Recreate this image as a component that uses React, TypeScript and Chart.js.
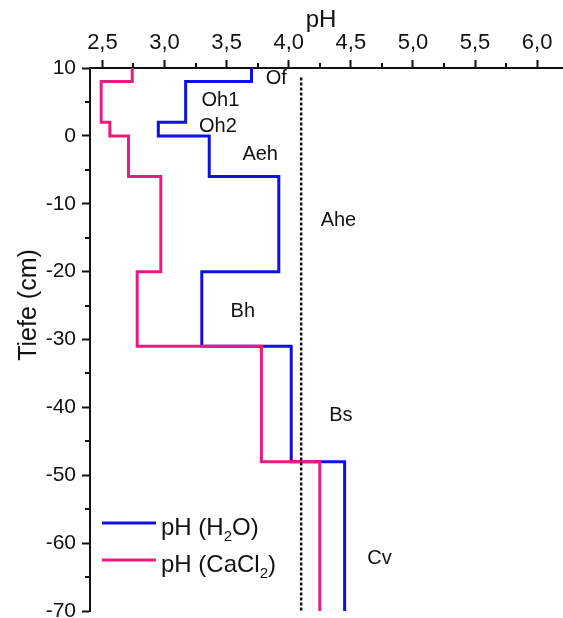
import { useEffect, useRef } from "react";
import { Chart, registerables } from "chart.js";
Chart.register(...registerables);

// Horizons and their depth bounds (cm)
const horizons = ["Of", "Oh1", "Oh2", "Aeh", "Ahe", "Bh", "Bs", "Cv"];
const horizonTop = [10, 8, 2, 0, -6, -20, -31, -48];
const horizonBottom = [8, 2, 0, -6, -20, -31, -48, -70];
// pH values per horizon
const phH2O = [3.7, 3.17, 2.95, 3.36, 3.92, 3.3, 4.02, 4.45];
const phCaCl2 = [2.74, 2.49, 2.56, 2.71, 2.97, 2.78, 3.78, 4.25];
// horizon label anchors (pH, depth)
const labelPH = [3.9, 3.45, 3.43, 3.77, 4.4, 3.63, 4.42, 4.73];
const labelDepth = [8.4, 5.2, 1.4, -2.8, -12.5, -25.9, -41.2, -62.3];
// reference (dashed) line
const refPH = [4.1, 4.1];
const refDepth = [8.6, -70];
// ticks
const xTicks = [2.5, 3.0, 3.5, 4.0, 4.5, 5.0, 5.5, 6.0];
const xMinorTicks = [2.75, 3.25, 3.75, 4.25, 4.75, 5.25, 5.75];
const yTicks = [10, 0, -10, -20, -30, -40, -50, -60, -70];
const yMinorTicks = [5, -5, -15, -25, -35, -45, -55, -65];

const FONT = "Arial, 'Liberation Sans', sans-serif";
const BLUE = "#1010E0";
const PINK = "#EA1A7E";
const INK = "#111111";

function steps(vals: number[]) {
  const pts: { x: number; y: number }[] = [];
  vals.forEach((v, i) => {
    pts.push({ x: v, y: horizonTop[i] });
    pts.push({ x: v, y: horizonBottom[i] });
  });
  return pts;
}

function drawRich(ctx: CanvasRenderingContext2D, x: number, y: number, parts: [string, boolean][], size: number) {
  let cx = x;
  for (const [t, sub] of parts) {
    if (sub) {
      ctx.font = `${Math.round(size * 0.62)}px ${FONT}`;
      ctx.fillText(t, cx, y + size * 0.24);
    } else {
      ctx.font = `${size}px ${FONT}`;
      ctx.fillText(t, cx, y);
    }
    cx += ctx.measureText(t).width;
  }
}

const overlay = {
  id: "overlay",
  afterDraw(chart: any) {
    const ctx: CanvasRenderingContext2D = chart.ctx;
    const xs = chart.scales.x;
    const ys = chart.scales.y;
    const area = chart.chartArea;
    ctx.save();
    // minor ticks
    ctx.strokeStyle = INK;
    ctx.lineWidth = 2;
    ctx.beginPath();
    xMinorTicks.forEach((v) => {
      const px = Math.round(xs.getPixelForValue(v));
      ctx.moveTo(px, area.top - 5);
      ctx.lineTo(px, area.top);
    });
    yMinorTicks.forEach((v) => {
      const py = Math.round(ys.getPixelForValue(v));
      ctx.moveTo(area.left - 5, py);
      ctx.lineTo(area.left, py);
    });
    ctx.stroke();

    ctx.fillStyle = INK;
    // horizon labels
    ctx.font = `20px ${FONT}`;
    ctx.textAlign = "center";
    ctx.textBaseline = "middle";
    horizons.forEach((h, i) => {
      ctx.fillText(h, xs.getPixelForValue(labelPH[i]), ys.getPixelForValue(labelDepth[i]));
    });

    // axis titles
    ctx.font = `24px ${FONT}`;
    ctx.textBaseline = "alphabetic";
    ctx.fillText("pH", area.left + 231, 27);
    ctx.save();
    ctx.font = `25px ${FONT}`;
    ctx.translate(36, 305);
    ctx.rotate(-Math.PI / 2);
    ctx.fillText("Tiefe (cm)", 0, 0);
    ctx.restore();

    // legend
    const lx0 = area.left + 12;
    const lx1 = area.left + 66;
    const ly = [area.bottom - 88, area.bottom - 51];
    const colors = [BLUE, PINK];
    const texts: [string, boolean][][] = [
      [["pH (H", false], ["2", true], ["O)", false]],
      [["pH (CaCl", false], ["2", true], [")", false]],
    ];
    ctx.lineWidth = 3;
    ctx.textAlign = "left";
    ly.forEach((y, i) => {
      ctx.strokeStyle = colors[i];
      ctx.beginPath();
      ctx.moveTo(lx0, y);
      ctx.lineTo(lx1, y);
      ctx.stroke();
      ctx.fillStyle = INK;
      drawRich(ctx, lx1 + 5, y + 12, texts[i], 24);
    });
    ctx.restore();
  },
};

export default function App() {
  const ref = useRef<HTMLCanvasElement>(null);
  useEffect(() => {
    document.body.style.margin = "0";
    const canvas = ref.current!;
    const chart = new Chart(canvas, {
      type: "scatter",
      data: {
        datasets: [
          {
            label: "pH (H2O)",
            data: steps(phH2O),
            showLine: true,
            borderColor: BLUE,
            borderWidth: 3,
            pointRadius: 0,
            borderJoinStyle: "miter",
            order: 2,
          },
          {
            label: "pH (CaCl2)",
            data: steps(phCaCl2),
            showLine: true,
            borderColor: PINK,
            borderWidth: 3,
            pointRadius: 0,
            borderJoinStyle: "miter",
            order: 1,
          },
          {
            label: "ref",
            data: refPH.map((x, i) => ({ x, y: refDepth[i] })),
            showLine: true,
            borderColor: INK,
            borderWidth: 2.5,
            borderDash: [3, 2],
            pointRadius: 0,
            order: 0,
          },
        ],
      } as any,
      options: {
        animation: false,
        responsive: false,
        devicePixelRatio: 1,
        layout: { padding: { left: 0, right: 1, top: 0, bottom: 7 } },
        plugins: { legend: { display: false }, tooltip: { enabled: false }, title: { display: false } },
        scales: {
          x: {
            type: "linear",
            position: "top",
            min: 2.4,
            max: 6.2,
            afterBuildTicks: (s: any) => {
              s.ticks = xTicks.map((v) => ({ value: v }));
            },
            afterFit: (s: any) => {
              s.height = 68;
              s.paddingLeft = 0;
              s.paddingRight = 0;
            },
            grid: { drawOnChartArea: false, drawTicks: true, tickLength: 8, tickWidth: 2, tickColor: INK, color: INK },
            border: { display: true, color: INK, width: 2 },
            ticks: {
              font: { family: FONT, size: 22 },
              color: INK,
              padding: 4,
              maxRotation: 0,
              autoSkip: false,
              callback: (v: any) => Number(v).toFixed(1).replace(".", ","),
            },
          },
          y: {
            type: "linear",
            min: -70,
            max: 10,
            afterBuildTicks: (s: any) => {
              s.ticks = yTicks.map((v) => ({ value: v }));
            },
            afterFit: (s: any) => {
              s.width = 90;
              s.paddingTop = 0;
              s.paddingBottom = 0;
            },
            grid: { drawOnChartArea: false, drawTicks: true, tickLength: 8, tickWidth: 2, tickColor: INK, color: INK },
            border: { display: true, color: INK, width: 2 },
            ticks: {
              font: { family: FONT, size: 21 },
              color: INK,
              padding: 6,
              autoSkip: false,
              callback: (v: any) => String(v),
            },
          },
        },
      } as any,
      plugins: [overlay],
    });
    return () => chart.destroy();
  }, []);
  return (
    <div style={{ width: 563, height: 618, background: "#fff" }}>
      <canvas ref={ref} width={563} height={618} style={{ display: "block" }} />
    </div>
  );
}
